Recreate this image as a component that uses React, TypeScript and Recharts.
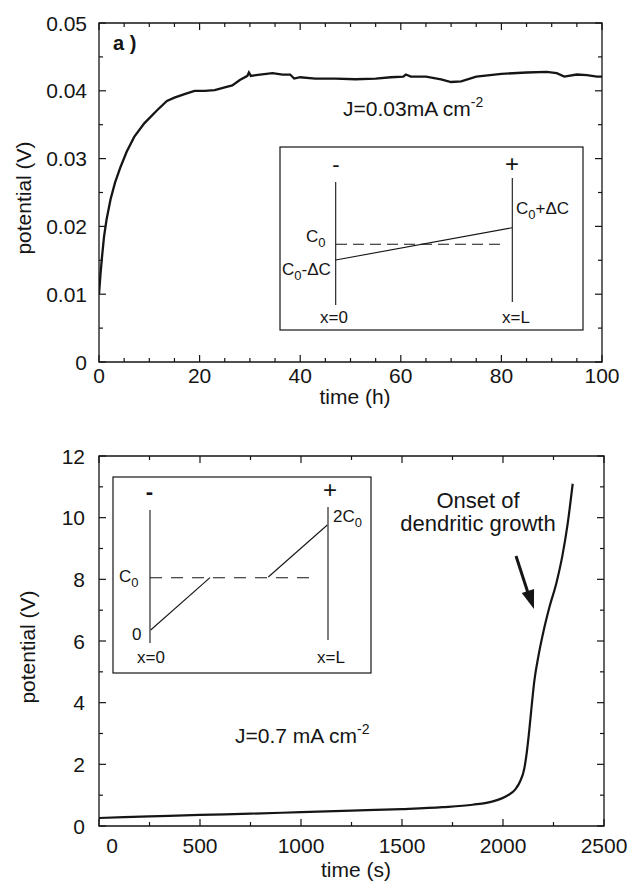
import React from 'react';
import { LineChart, Line, XAxis, YAxis, ReferenceArea } from 'recharts';

// panel a: potential vs time at J=0.03 mA cm-2
const hoursA = [0, 0.3, 0.6, 1, 1.5, 2.3, 3.2, 4.3, 5.5, 7, 9, 11.5, 13.5, 15, 17, 19, 21, 23, 25, 26.5, 28, 29.5, 29.8, 30.2, 32, 34.5, 36.5, 38, 38.8, 40, 43, 47, 51, 55, 58, 60.5, 61, 62, 65, 68, 70, 72, 75, 80, 85, 89, 91, 92.5, 95, 97, 99, 100];
const voltsA = [0.01, 0.013, 0.0155, 0.0185, 0.021, 0.024, 0.0265, 0.0288, 0.031, 0.0332, 0.0352, 0.0371, 0.0385, 0.039, 0.0395, 0.04, 0.04, 0.0401, 0.0405, 0.0408, 0.0416, 0.0422, 0.0427, 0.0422, 0.0424, 0.0426, 0.0424, 0.0424, 0.0418, 0.042, 0.0418, 0.0418, 0.0417, 0.0418, 0.042, 0.0421, 0.0424, 0.0421, 0.0421, 0.0417, 0.0413, 0.0414, 0.0421, 0.0425, 0.0427, 0.0428, 0.0426, 0.0421, 0.0424, 0.0423, 0.0421, 0.0421];

// panel b: potential vs time at J=0.7 mA cm-2
const secondsB = [0, 250, 500, 750, 1000, 1250, 1500, 1700, 1850, 1950, 2020, 2060, 2085, 2105, 2118, 2130, 2142, 2155, 2175, 2200, 2230, 2265, 2295, 2320, 2345];
const voltsB = [0.26, 0.31, 0.36, 0.4, 0.45, 0.5, 0.55, 0.61, 0.69, 0.8, 0.98, 1.18, 1.45, 1.85, 2.4, 3.1, 3.9, 4.7, 5.5, 6.3, 7.1, 7.9, 8.8, 9.8, 11.1];

const ticksXA = [0, 5, 10, 15, 20, 25, 30, 35, 40, 45, 50, 55, 60, 65, 70, 75, 80, 85, 90, 95, 100];
const ticksYA = [0, 0.005, 0.01, 0.015, 0.02, 0.025, 0.03, 0.035, 0.04, 0.045, 0.05];
const ticksXB = [0, 250, 500, 750, 1000, 1250, 1500, 1750, 2000, 2250, 2500];
const ticksYB = [0, 1, 2, 3, 4, 5, 6, 7, 8, 9, 10, 11, 12];

const dataA = hoursA.map((t, i) => ({ t, v: voltsA[i] }));
const dataB = secondsB.map((t, i) => ({ t, v: voltsB[i] }));

const INK = '#151515';
const FONT = "'Liberation Sans', Arial, Helvetica, sans-serif";

const onStep = (v: number, step: number) => Math.abs(Math.round(v / step) * step - v) < 1e-9;

// bottom axis tick: inward tick at bottom and mirrored one at top
const xTick = (step: number, plotH: number, dy: number, shift: (v: number) => number) => (props: any) => {
  const { x, y, payload } = props;
  const v = payload.value;
  const major = onStep(v, step);
  const len = major ? 7 : 4;
  return (
    <g>
      <line x1={x} y1={y} x2={x} y2={y - len} stroke={INK} strokeWidth={1.2} />
      <line x1={x} y1={y - plotH} x2={x} y2={y - plotH + len} stroke={INK} strokeWidth={1.2} />
      {major && (
        <text x={x + shift(v)} y={y + dy} textAnchor="middle" fontSize={21} fontFamily={FONT} fill={INK}>
          {String(v)}
        </text>
      )}
    </g>
  );
};

const yTick = (step: number, plotW: number, gap: number, fmt: (v: number) => string) => (props: any) => {
  const { x, y, payload } = props;
  const v = payload.value;
  const major = onStep(v, step);
  const len = major ? 7 : 4;
  return (
    <g>
      <line x1={x} y1={y} x2={x + len} y2={y} stroke={INK} strokeWidth={1.2} />
      <line x1={x + plotW} y1={y} x2={x + plotW - len} y2={y} stroke={INK} strokeWidth={1.2} />
      {major && (
        <text x={x - gap} y={y + 7.5} textAnchor="end" fontSize={21} fontFamily={FONT} fill={INK}>
          {fmt(v)}
        </text>
      )}
    </g>
  );
};

const Sub = ({ children }: { children: React.ReactNode }) => (
  <tspan fontSize={13} dy={5}>{children}</tspan>
);

const arrowHead = (() => {
  const tip = [534, 609];
  const from = [516, 556];
  const dx = tip[0] - from[0];
  const dy = tip[1] - from[1];
  const n = Math.hypot(dx, dy);
  const ux = dx / n, uy = dy / n;
  const bx = tip[0] - ux * 19, by = tip[1] - uy * 19;
  const px = -uy * 6.5, py = ux * 6.5;
  return `${tip[0]},${tip[1]} ${bx + px},${by + py} ${bx - px},${by - py}`;
})();

export default function App() {
  const txt = { fontFamily: FONT, fill: INK } as const;
  return (
    <div style={{ position: 'absolute', left: 0, top: 0, width: 629, height: 884, background: '#fff', fontFamily: FONT }}>
      <div style={{ position: 'absolute', left: 0, top: 0 }}>
        <LineChart width={629} height={420} data={dataA} margin={{ top: 23, right: 27, bottom: 0, left: 0 }}>
          <XAxis
            dataKey="t"
            type="number"
            domain={[0, 100]}
            ticks={ticksXA}
            interval={0}
            height={58}
            axisLine={false}
            tickLine={false}
            tickSize={0}
            tickMargin={0}
            allowDataOverflow
            tick={xTick(20, 339, 21, () => 0)}
          />
          <YAxis
            type="number"
            domain={[0, 0.05]}
            ticks={ticksYA}
            interval={0}
            width={99}
            axisLine={false}
            tickLine={false}
            tickSize={0}
            tickMargin={0}
            allowDataOverflow
            tick={yTick(0.01, 503, 12, (v) => (v === 0 ? '0' : v.toFixed(2)))}
          />
          <ReferenceArea x1={0} x2={100} y1={0} y2={0.05} fill="none" stroke={INK} strokeWidth={1.3} />
          <Line type="linear" dataKey="v" stroke={INK} strokeWidth={2.3} dot={false} isAnimationActive={false} />
        </LineChart>
      </div>

      <div style={{ position: 'absolute', left: 0, top: 420 }}>
        <LineChart width={629} height={464} data={dataB} margin={{ top: 36, right: 25, bottom: 0, left: 0 }}>
          <XAxis
            dataKey="t"
            type="number"
            domain={[0, 2500]}
            ticks={ticksXB}
            interval={0}
            height={58}
            axisLine={false}
            tickLine={false}
            tickSize={0}
            tickMargin={0}
            allowDataOverflow
            tick={xTick(500, 370, 27, (v) => (v === 0 ? 13 : 0))}
          />
          <YAxis
            type="number"
            domain={[0, 12]}
            ticks={ticksYB}
            interval={0}
            width={99}
            axisLine={false}
            tickLine={false}
            tickSize={0}
            tickMargin={0}
            allowDataOverflow
            tick={yTick(2, 505, 14, (v) => String(v))}
          />
          <ReferenceArea x1={0} x2={2500} y1={0} y2={12} fill="none" stroke={INK} strokeWidth={1.3} />
          <Line type="monotone" dataKey="v" stroke={INK} strokeWidth={2.2} dot={false} isAnimationActive={false} />
        </LineChart>
      </div>

      {/* titles, annotations and the two schematic insets */}
      <svg width={629} height={884} style={{ position: 'absolute', left: 0, top: 0, pointerEvents: 'none' }}>
        {/* panel a */}
        <text {...txt} fontSize={21} textAnchor="middle" transform="translate(31,198) rotate(-90)">potential (V)</text>
        <text {...txt} fontSize={21} textAnchor="middle" x={355} y={404}>time (h)</text>
        <text {...txt} fontSize={20} fontWeight="bold" x={113} y={50}>a )</text>
        <text {...txt} fontSize={21} x={343} y={116}>
          J=0.03mA cm<tspan fontSize={14} dy={-9}>-2</tspan>
        </text>

        <rect x={280} y={147} width={303} height={183} fill="#fff" stroke={INK} strokeWidth={1.2} />
        <text {...txt} fontSize={22} textAnchor="middle" x={336} y={172}>-</text>
        <text {...txt} fontSize={24} textAnchor="middle" x={512} y={172}>+</text>
        <line x1={335.7} y1={182} x2={335.7} y2={305} stroke={INK} strokeWidth={1.1} />
        <line x1={512.3} y1={178} x2={512.3} y2={302} stroke={INK} strokeWidth={1.1} />
        <line x1={336} y1={244.3} x2={503} y2={244.3} stroke={INK} strokeWidth={1.1} strokeDasharray="11 6" />
        <line x1={335.7} y1={260} x2={512.3} y2={227.7} stroke={INK} strokeWidth={1.1} />
        <text {...txt} fontSize={17} x={306} y={242}>C<Sub>0</Sub></text>
        <text {...txt} fontSize={17} x={282} y={275}>C<Sub>0</Sub><tspan dy={-5}>-ΔC</tspan></text>
        <text {...txt} fontSize={17} x={516} y={214}>C<Sub>0</Sub><tspan dy={-5}>+ΔC</tspan></text>
        <text {...txt} fontSize={17} x={320} y={323}>x=0</text>
        <text {...txt} fontSize={17} x={502} y={323}>x=L</text>

        {/* panel b */}
        <text {...txt} fontSize={21} textAnchor="middle" transform="translate(35,647) rotate(-90)">potential (V)</text>
        <text {...txt} fontSize={21} textAnchor="middle" x={356} y={877}>time (s)</text>
        <text {...txt} fontSize={21} x={235} y={743}>
          J=0.7 mA cm<tspan fontSize={14} dy={-9}>-2</tspan>
        </text>
        <text {...txt} fontSize={22} textAnchor="middle" x={478} y={508}>Onset of</text>
        <text {...txt} fontSize={22} textAnchor="middle" x={478} y={531}>dendritic growth</text>
        <line x1={516} y1={556} x2={529} y2={596} stroke={INK} strokeWidth={3} />
        <polygon points={arrowHead} fill={INK} />

        <rect x={113} y={477} width={258} height={196} fill="#fff" stroke={INK} strokeWidth={1.2} />
        <text {...txt} fontSize={22} fontWeight="bold" textAnchor="middle" x={149.5} y={499}>-</text>
        <text {...txt} fontSize={24} textAnchor="middle" x={330} y={498}>+</text>
        <line x1={150} y1={510} x2={150} y2={643} stroke={INK} strokeWidth={1.1} />
        <line x1={328} y1={507} x2={328} y2={640} stroke={INK} strokeWidth={1.1} />
        <line x1={150} y1={577.7} x2={318} y2={577.7} stroke={INK} strokeWidth={1.1} strokeDasharray="12 9" />
        <line x1={150.7} y1={630} x2={210} y2={577.7} stroke={INK} strokeWidth={1.1} />
        <line x1={268.3} y1={577} x2={327.3} y2={525} stroke={INK} strokeWidth={1.1} />
        <text {...txt} fontSize={17} x={119} y={582}>C<Sub>0</Sub></text>
        <text {...txt} fontSize={17} x={132} y={640}>0</text>
        <text {...txt} fontSize={17} x={333} y={522}>2C<Sub>0</Sub></text>
        <text {...txt} fontSize={17} x={137} y={663}>x=0</text>
        <text {...txt} fontSize={17} x={317} y={663}>x=L</text>
      </svg>
    </div>
  );
}
